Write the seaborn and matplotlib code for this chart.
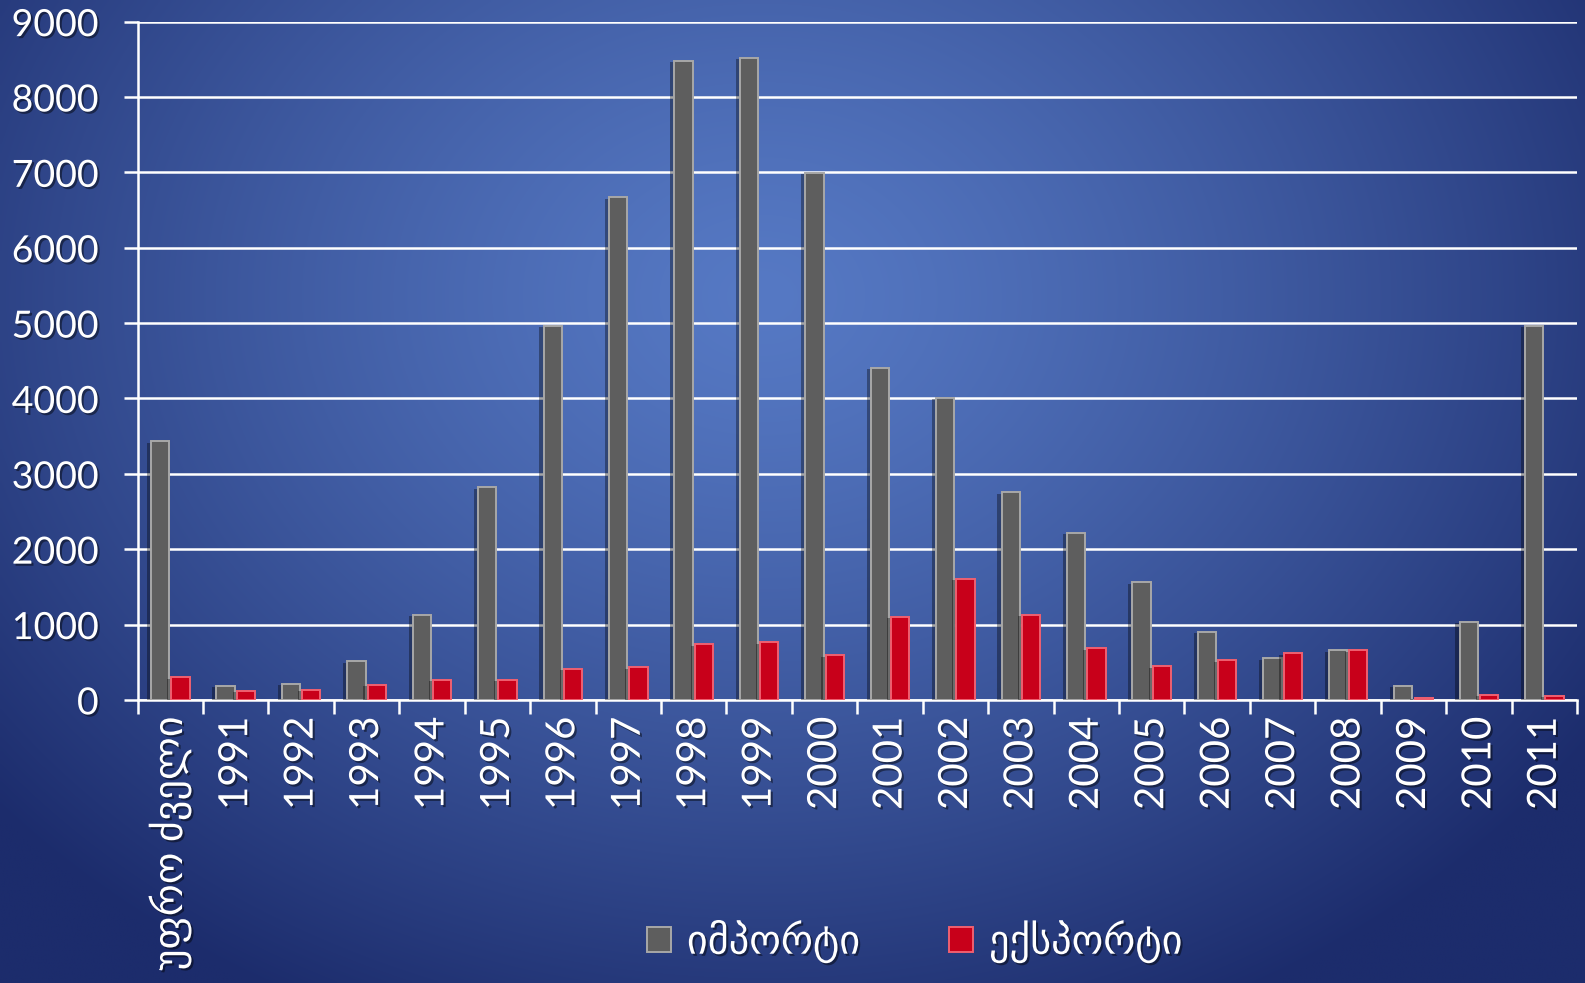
import matplotlib
matplotlib.use("Agg")
import matplotlib.pyplot as plt
import matplotlib.patheffects as pe
import matplotlib.patches as mpatches
import seaborn as sns
import numpy as np
import pandas as pd

categories = ['უფრო ძველი', '1991', '1992', '1993', '1994', '1995', '1996', '1997',
              '1998', '1999', '2000', '2001', '2002', '2003', '2004', '2005', '2006',
              '2007', '2008', '2009', '2010', '2011']
imports = [3430, 190, 215, 510, 1130, 2820, 4960, 6670, 8480, 8520, 6990, 4410,
           4005, 2755, 2220, 1560, 900, 550, 660, 190, 1035, 4960]
exports = [300, 120, 135, 200, 270, 270, 415, 430, 740, 765, 590, 1100,
           1610, 1130, 685, 445, 525, 620, 660, 25, 65, 55]
series_names = ['იმპორტი', 'ექსპორტი']

df = pd.DataFrame({
    'cat': categories * 2,
    'value': imports + exports,
    'series': [series_names[0]] * len(categories) + [series_names[1]] * len(categories),
})

sns.set_style("white")
plt.rcParams['font.family'] = ['Lato', 'DejaVu Sans']

fig = plt.figure(figsize=(15.85, 9.83), dpi=100)

# background gradient (light blue centre, darker towards corners)
bg = fig.add_axes([0, 0, 1, 1], zorder=-10)
h, w = 300, 480
yy, xx = np.mgrid[0:h, 0:w]
cx, cy = 0.48 * w, 0.3 * h
d = np.sqrt(((xx - cx) / w) ** 2 * 0.9 + ((yy - cy) / h) ** 2 * 0.55)
d = np.clip(d / 0.6, 0, 1) ** 1.3
c_in = np.array([86, 121, 196]) / 255
c_out = np.array([28, 44, 108]) / 255
img = c_in[None, None, :] * (1 - d[..., None]) + c_out[None, None, :] * d[..., None]
bg.imshow(img, aspect='auto', extent=[0, 1, 0, 1], interpolation='bilinear')
bg.axis('off')

ax = fig.add_axes([0.0868, 0.288, 0.9082, 0.69])
ax.set_facecolor('none')

palette = {series_names[0]: '#5e5e5e', series_names[1]: '#c8001a'}
sns.barplot(data=df, x='cat', y='value', hue='series', palette=palette,
            width=0.62, gap=0.1, saturation=1, ax=ax, legend=False, zorder=3)

edge_cols = ['#a8a8a8', '#f06070']
bar_shadow = [pe.withSimplePatchShadow(offset=(-3, -1), shadow_rgbFace='black', alpha=0.35)]
n = len(categories)
for i, patch in enumerate(ax.patches[:2 * n]):
    patch.set_edgecolor(edge_cols[i // n])
    patch.set_linewidth(1.4)
    patch.set_path_effects(bar_shadow)

ax.set_ylim(0, 9000)
ax.set_xlim(-0.5, n - 0.5)
ax.set_yticks(np.arange(0, 9001, 1000))
ax.yaxis.grid(True, color='white', linewidth=1.8, zorder=0)
ax.set_axisbelow(True)
ax.set_xlabel('')
ax.set_ylabel('')

for s in ['top', 'right']:
    ax.spines[s].set_visible(False)
for s in ['left', 'bottom']:
    ax.spines[s].set_color('white')
    ax.spines[s].set_linewidth(1.8)

ax.tick_params(axis='y', colors='white', labelsize=27, length=10, width=1.8, pad=18,
               direction='out', left=True)
ax.set_xticks(np.arange(n))
ax.set_xticklabels(categories, rotation=90, color='white', fontsize=29, va='top')
ax.set_xticks(np.arange(-0.5, n, 1), minor=True)
ax.tick_params(axis='x', which='major', length=0, pad=12)
ax.tick_params(axis='x', which='minor', length=10, width=1.8, color='white', bottom=True)

text_shadow = [pe.withSimplePatchShadow(offset=(1.5, -1.5), shadow_rgbFace='black', alpha=0.45)]
for t in ax.get_xticklabels() + ax.get_yticklabels():
    t.set_color('white')
    t.set_path_effects(text_shadow)

handles = [mpatches.Patch(facecolor=palette[s], edgecolor=e, linewidth=1.4, label=s)
           for s, e in zip(series_names, edge_cols)]
leg = fig.legend(handles=handles, loc='center', bbox_to_anchor=(0.577, 0.042), ncol=2,
                 frameon=False, fontsize=29, handlelength=0.6, handleheight=0.6,
                 handletextpad=0.4, columnspacing=2.2)
for t in leg.get_texts():
    t.set_color('white')
    t.set_path_effects(text_shadow)

fig.savefig('out.png', dpi=100)
